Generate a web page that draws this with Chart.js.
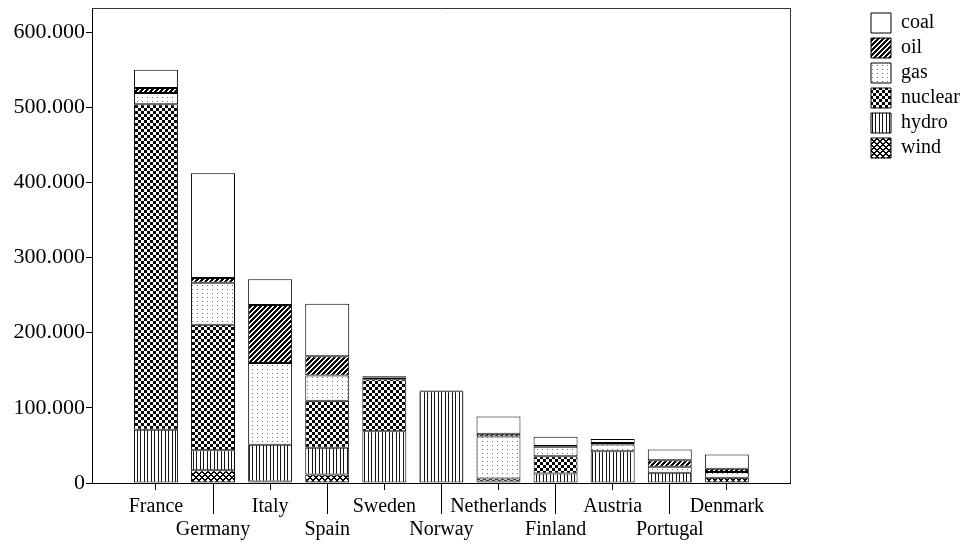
<!DOCTYPE html>
<html>
<head>
<meta charset="utf-8">
<script src="https://cdn.jsdelivr.net/npm/chart.js@4.4.1/dist/chart.umd.min.js"></script>
<style>
  html, body { margin: 0; padding: 0; background: #fff; }
  #wrap { width: 961px; height: 543px; position: relative; }
</style>
</head>
<body>
<div id="wrap"><canvas id="c"></canvas></div>
<script>
// ---- data (GWh) ----
const countries = ['France', 'Germany', 'Italy', 'Spain', 'Sweden', 'Norway', 'Netherlands', 'Finland', 'Austria', 'Portugal', 'Denmark'];
const wind    = [0,      17000,  2000,   11300, 0,     0,      2000,  0,     0,     0,     7000];
const hydro   = [71000,  26600,  49000,  35500, 69000, 122000, 0,     12600, 42300, 13500, 0];
const nuclear = [433000, 167000, 0,      62800, 69000, 0,      4000,  23000, 0,     0,     0];
const gas     = [15000,  56000,  108500, 33300, 500,   500,    56000, 12500, 9000,  8000,  7500];
const oil     = [6500,   6000,   77500,  25600, 2000,  0,      3600,  1000,  2000,  8800,  4500];
const coal    = [24500,  139500, 34000,  70000, 1500,  500,    23000, 12500, 5400,  14200, 19000];
const yTicks  = [0, 100000, 200000, 300000, 400000, 500000, 600000];

const canvas = document.getElementById('c');
const mainCtx = canvas.getContext('2d');

function makePattern(w, h, fn) {
  const c = document.createElement('canvas');
  c.width = w; c.height = h;
  const g = c.getContext('2d');
  const img = g.createImageData(w, h);
  for (let y = 0; y < h; y++) {
    for (let x = 0; x < w; x++) {
      const v = fn(x, y);
      const k = (y * w + x) * 4;
      img.data[k] = v; img.data[k + 1] = v; img.data[k + 2] = v; img.data[k + 3] = 255;
    }
  }
  g.putImageData(img, 0, 0);
  return mainCtx.createPattern(c, 'repeat');
}

const pCoal = '#ffffff';
const pOil = makePattern(5, 5, (x, y) => ((x + y) % 5 < 3 ? 0 : 255));
const pGas = makePattern(5, 4, (x, y) => (x === 2 && y === 1 ? 110 : 255));
const pNuclear = makePattern(6, 6, (x, y) => ((Math.floor(x / 3) + Math.floor(y / 3)) % 2 === 0 ? 0 : 255));
const pHydro = makePattern(7, 1, (x, y) => (x === 0 || x === 4 ? 20 : 255));
const pWind = makePattern(6, 6, (x, y) => (((x + y) % 6 < 2) || ((x - y + 60) % 6 < 2) ? 0 : 255));

function fmt(v) {
  if (v === 0) return '0';
  return String(v).replace(/\B(?=(\d{3})+(?!\d))/g, '.');
}

function ds(label, values, fill) {
  return {
    label: label,
    data: values.map((v, i) => ({ x: i, y: v })),
    backgroundColor: fill,
    borderColor: '#000',
    borderWidth: 1,
    borderSkipped: false,
    categoryPercentage: 1,
    barPercentage: 0.77
  };
}

const framePlugin = {
  id: 'frame',
  afterDraw(chart) {
    const { ctx, chartArea: a, scales } = chart;
    const xs = scales.x;
    ctx.save();
    ctx.strokeStyle = '#333';
    ctx.lineWidth = 1;
    ctx.beginPath();
    ctx.moveTo(a.left, a.top + 0.5);
    ctx.lineTo(a.right + 0.5, a.top + 0.5);
    ctx.lineTo(a.right + 0.5, a.bottom);
    ctx.stroke();
    ctx.strokeStyle = '#000';
    countries.forEach((c, i) => {
      if (i % 2 === 1) {
        const px = Math.round(xs.getPixelForValue(i) - 0.5) + 0.5;
        ctx.beginPath();
        ctx.moveTo(px, a.bottom);
        ctx.lineTo(px, a.bottom + 31);
        ctx.stroke();
      }
    });
    ctx.restore();
  }
};

Chart.defaults.font.family = "'Liberation Serif', 'Times New Roman', serif";
Chart.defaults.font.size = 20;
Chart.defaults.color = '#000';

new Chart(canvas, {
  type: 'bar',
  data: {
    datasets: [
      ds('wind', wind, pWind),
      ds('hydro', hydro, pHydro),
      ds('nuclear', nuclear, pNuclear),
      ds('gas', gas, pGas),
      ds('oil', oil, pOil),
      ds('coal', coal, pCoal)
    ]
  },
  options: {
    responsive: true,
    maintainAspectRatio: false,
    animation: false,
    devicePixelRatio: 1,
    layout: { padding: { top: 8, right: 0, bottom: 0, left: 0 } },
    plugins: {
      tooltip: { enabled: false },
      legend: {
        position: 'right',
        align: 'start',
        reverse: true,
        maxWidth: 95,
        labels: {
          boxWidth: 20,
          boxHeight: 20,
          padding: 5,
          color: '#000',
          font: { size: 20 }
        }
      }
    },
    scales: {
      x: {
        type: 'linear',
        stacked: true,
        offset: false,
        min: -1.12,
        max: 11.106,
        afterBuildTicks: (s) => { s.ticks = countries.map((c, i) => ({ value: i })); },
        afterFit: (s) => { s.height = 60; s.paddingLeft = 0; s.paddingRight = 0; },
        grid: { display: true, offset: false, drawOnChartArea: false, drawTicks: true, tickLength: 7, color: '#000' },
        border: { display: true, color: '#000', width: 1 },
        ticks: {
          autoSkip: false,
          maxRotation: 0,
          minRotation: 0,
          padding: 5,
          color: '#000',
          font: { size: 20, lineHeight: 1.17 },
          callback: (v) => {
            const i = Math.round(v);
            if (i < 0 || i >= countries.length) return '';
            return i % 2 === 1 ? ['', countries[i]] : countries[i];
          }
        }
      },
      y: {
        stacked: true,
        min: 0,
        max: 632000,
        afterBuildTicks: (s) => { s.ticks = yTicks.map(v => ({ value: v })); },
        afterFit: (s) => { s.width = 92; s.paddingTop = 0; s.paddingBottom = 0; },
        grid: { display: true, drawOnChartArea: false, drawTicks: true, tickLength: 6, color: '#000' },
        border: { display: true, color: '#000', width: 1 },
        ticks: {
          padding: 1,
          color: '#000',
          font: { size: 22 },
          callback: (v) => fmt(v)
        }
      },
      yGap: {
        axis: 'y',
        type: 'linear',
        position: 'right',
        display: true,
        afterFit: (s) => { s.width = 76; s.paddingTop = 0; s.paddingBottom = 0; },
        grid: { display: false, drawTicks: false },
        border: { display: false },
        ticks: { display: false }
      }
    }
  },
  plugins: [framePlugin]
});
</script>
</body>
</html>
